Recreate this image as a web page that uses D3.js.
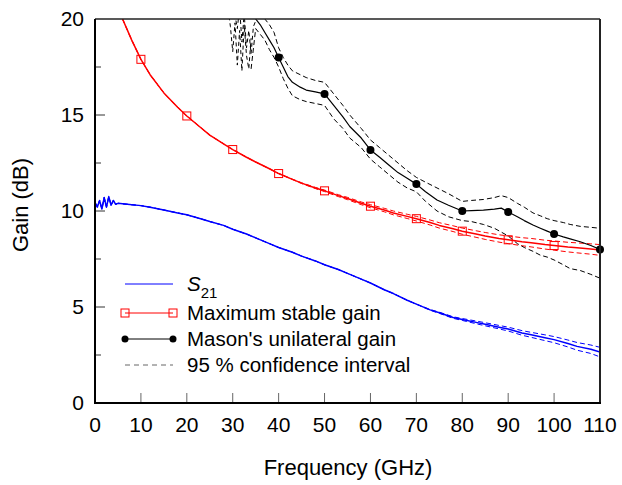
<!DOCTYPE html>
<html>
<head>
<meta charset="utf-8">
<script src="https://cdn.jsdelivr.net/npm/d3@7"></script>
<style>
body{margin:0;background:#fff;}
text{font-family:"Liberation Sans",Arial,sans-serif;fill:#000;}
</style>
</head>
<body>
<div id="chart"></div>
<script>
// S21 (blue)
var s21F=[0,0.5,1,1.5,2,2.5,3,3.5,4,4.5,5,7,10,12,15,18,20,23,25,28,30,33,35,38,40,43,45,48,50,53,55,58,60,63,65,68,70,73,75,78,80,83,85,88,90,93,95,98,100,103,105,108,110];
var s21G=[10.45,10.2,10.55,10.1,10.7,10.2,10.75,10.3,10.55,10.35,10.4,10.35,10.28,10.2,10.05,9.9,9.8,9.6,9.45,9.25,9.05,8.8,8.6,8.3,8.1,7.85,7.65,7.4,7.2,6.95,6.75,6.45,6.25,5.9,5.7,5.35,5.15,4.85,4.7,4.45,4.35,4.2,4.1,3.95,3.85,3.65,3.55,3.4,3.3,3.1,2.95,2.8,2.65];
var s21Err=[0,0,0,0,0,0,0,0,0,0,0,0,0,0,0,0,0,0,0,0,0,0,0,0,0,0,0,0,0,0,0,0,0,0,0,0,0,0.02,0.03,0.04,0.05,0.07,0.08,0.09,0.1,0.12,0.13,0.15,0.16,0.18,0.2,0.22,0.25];
// maximum stable gain (red)
var msgF=[5.5,6,8,10,12,15,18,20,23,25,28,30,33,35,38,40,43,45,48,50,53,55,58,60,63,65,68,70,73,75,78,80,83,85,88,90,93,95,98,100,103,105,108,110];
var msgG=[20.4,20.0,18.9,17.9,17.1,16.15,15.4,14.95,14.35,13.95,13.5,13.2,12.8,12.55,12.2,11.95,11.65,11.45,11.2,11.05,10.8,10.65,10.4,10.25,10.05,9.9,9.72,9.6,9.4,9.25,9.08,8.95,8.8,8.7,8.57,8.5,8.4,8.35,8.25,8.2,8.12,8.08,8.02,7.97];
var msgErr=[0,0,0,0,0,0,0,0,0,0,0,0,0,0,0,0,0.01,0.02,0.03,0.04,0.05,0.06,0.07,0.08,0.09,0.1,0.11,0.12,0.13,0.14,0.15,0.16,0.17,0.18,0.19,0.2,0.21,0.22,0.23,0.24,0.25,0.26,0.27,0.28];
// Mason's unilateral gain (black)
var masF=[34,35,36,37,38,39,40,41,42,43,44.7,46,48,50,52,54,55.5,58,60,62,64,66,68,70,72,74.5,77,80,82,84.6,87,88.5,90,92,93.5,95.4,97,98.5,100,102,103.5,105.7,108,110];
var masG=[20.6,20.0,19.7,19.3,18.9,18.5,18.0,17.5,17.0,16.7,16.45,16.3,16.2,16.1,15.5,14.9,14.4,13.8,13.18,12.8,12.4,12.0,11.7,11.4,11.0,10.57,10.3,10.0,10.02,10.05,10.1,10.15,9.95,9.7,9.5,9.27,9.1,8.95,8.8,8.65,8.55,8.4,8.2,8.0];
var masUp=[21.5,20.6,20.4,20.0,19.7,19.3,18.5,18.0,17.6,17.3,17.1,16.95,16.8,16.7,16.1,15.5,15.0,14.3,13.7,13.3,12.9,12.5,12.1,11.75,11.5,11.2,10.9,10.5,10.55,10.6,10.7,10.8,10.7,10.4,10.2,9.9,9.75,9.6,9.5,9.4,9.3,9.2,9.15,9.1];
var masLo=[17.4,19.5,19.2,18.9,18.4,18.0,17.5,16.9,16.4,16.0,15.8,15.7,15.6,15.5,14.8,14.3,13.8,13.3,12.7,12.3,11.9,11.5,11.2,11.0,10.5,10.0,9.7,9.5,9.45,9.3,9.1,8.9,8.7,8.3,8.1,7.9,7.7,7.6,7.45,7.2,7.0,6.9,6.7,6.5];
// wild parts of the confidence bounds at 29-35 GHz
var wildF=[29,29.5,30,30.5,31,31.5,32,32.5,33,33.5,34];
var wildG=[20.5,19.6,18.3,19.8,17.6,19.4,17.3,19.7,18.1,17.4,19.0];
var wild2F=[30,30.5,31,31.5,32,32.5,33,33.5,34,34.5,35];
var wild2G=[21,20.2,19.5,20.6,18.8,20.3,18.5,19.4,18.2,19.6,19.9];
// markers
var msgMkF=[10,20,30,40,50,60,70,80,90,100];
var masMkF=[40,50,60,70,80,90,100,110];
// axes
var xTicks=[0,10,20,30,40,50,60,70,80,90,100,110];
var yTicks=[0,5,10,15,20];
var yMinor=[2.5,7.5,12.5,17.5];

var W=622,H=485,L=95,R=600,T=19,B=403;
var x=d3.scaleLinear().domain([0,110]).range([L,R]);
var y=d3.scaleLinear().domain([0,20]).range([B,T]);

var svg=d3.select("#chart").append("svg").attr("width",W).attr("height",H);
svg.append("defs").append("clipPath").attr("id","clip")
   .append("rect").attr("x",L).attr("y",T).attr("width",R-L).attr("height",B-T);
var plot=svg.append("g").attr("clip-path","url(#clip)");

function pts(fs,gs){return fs.map(function(f,i){return [f,gs[i]];});}
var line=d3.line().x(function(d){return x(d[0]);}).y(function(d){return y(d[1]);});

function drawLine(data,color,w,dash){
  var p=plot.append("path").attr("d",line(data)).attr("fill","none")
    .attr("stroke",color).attr("stroke-width",w).attr("stroke-linejoin","round");
  if(dash) p.attr("stroke-dasharray",dash);
}

// confidence intervals
drawLine(pts(s21F,s21G.map(function(g,i){return g+s21Err[i];})),"#0000ff",1,"5,3");
drawLine(pts(s21F,s21G.map(function(g,i){return g-s21Err[i];})),"#0000ff",1,"5,3");
drawLine(pts(msgF,msgG.map(function(g,i){return g+msgErr[i];})),"#ff0000",1,"5,3");
drawLine(pts(msgF,msgG.map(function(g,i){return g-msgErr[i];})),"#ff0000",1,"5,3");
drawLine(pts(masF,masUp),"#000",1,"5,3");
drawLine(pts(masF,masLo),"#000",1,"5,3");
drawLine(pts(wildF,wildG),"#000",1,"4,3");
drawLine(pts(wild2F,wild2G),"#000",1,"4,3");

// main curves
drawLine(pts(s21F,s21G),"#0000ff",1.5);
drawLine(pts(msgF,msgG),"#ff0000",1.5);
drawLine(pts(masF,masG),"#000",1.2);

// markers
function interp(fs,gs,f){return d3.scaleLinear().domain(fs).range(gs)(f);}
plot.selectAll("rect.msg").data(msgMkF).enter().append("rect").attr("class","msg")
  .attr("x",function(d){return x(d)-4;}).attr("y",function(d){return y(interp(msgF,msgG,d))-4;})
  .attr("width",8).attr("height",8).attr("fill","none").attr("stroke","#ff0000").attr("stroke-width",1);
svg.selectAll("circle.mas").data(masMkF).enter().append("circle").attr("class","mas")
  .attr("cx",function(d){return x(d);}).attr("cy",function(d){return y(interp(masF,masG,d));})
  .attr("r",4).attr("fill","#000");

// frame
svg.append("line").attr("x1",L).attr("x2",R).attr("y1",T).attr("y2",T).attr("stroke","#222").attr("stroke-width",1.5);
svg.append("line").attr("x1",R).attr("x2",R).attr("y1",T).attr("y2",B).attr("stroke","#222").attr("stroke-width",2);

// x axis
svg.selectAll("line.xt").data(xTicks.slice(1,-1)).enter().append("line")
  .attr("x1",x).attr("x2",x).attr("y1",B).attr("y2",B-10).attr("stroke","#666").attr("stroke-width",1);
svg.selectAll("text.xl").data(xTicks).enter().append("text")
  .attr("x",x).attr("y",B+22).attr("dy",".35em").attr("text-anchor","middle")
  .style("font-size","21px").text(function(d){return d;});
svg.append("line").attr("x1",L).attr("x2",R+1).attr("y1",B).attr("y2",B).attr("stroke","#000").attr("stroke-width",2);

// y axis
svg.selectAll("line.yt").data(yTicks.slice(1,-1)).enter().append("line")
  .attr("x1",L).attr("x2",L+10).attr("y1",y).attr("y2",y).attr("stroke","#333").attr("stroke-width",1);
svg.selectAll("line.ym").data(yMinor).enter().append("line")
  .attr("x1",L).attr("x2",L+6).attr("y1",y).attr("y2",y).attr("stroke","#333").attr("stroke-width",1);
svg.selectAll("text.yl").data(yTicks).enter().append("text")
  .attr("x",L-11).attr("y",y).attr("dy",".35em").attr("text-anchor","end")
  .style("font-size","21px").text(function(d){return d;});
svg.append("line").attr("x1",L).attr("x2",L).attr("y1",T).attr("y2",B+1).attr("stroke","#000").attr("stroke-width",2);

// axis titles
svg.append("text").attr("x",348).attr("y",467).attr("dy",".35em").attr("text-anchor","middle")
  .style("font-size","22px").text("Frequency (GHz)");
svg.append("text").attr("transform","translate(20,205) rotate(-90)").attr("dy",".35em")
  .attr("text-anchor","middle").style("font-size","22px").text("Gain (dB)");

// legend
var lx1=125,lx2=173,tx=187,fs="20.5px";
var leg=svg.append("g");
leg.append("line").attr("x1",lx1).attr("x2",lx2).attr("y1",284).attr("y2",284).attr("stroke","#0000ff").attr("stroke-width",1);
var st=leg.append("text").attr("x",tx).attr("y",284).attr("dy",".35em").style("font-size",fs);
st.append("tspan").style("font-style","italic").text("S");
st.append("tspan").attr("dy","7").style("font-size","15px").text("21");
leg.append("line").attr("x1",lx1).attr("x2",lx2).attr("y1",313).attr("y2",313).attr("stroke","#ff0000").attr("stroke-width",1);
leg.selectAll("rect").data([lx1,lx2]).enter().append("rect").attr("x",function(d){return d-4;}).attr("y",309)
  .attr("width",8).attr("height",8).attr("fill","none").attr("stroke","#ff0000");
leg.append("text").attr("x",tx).attr("y",313).attr("dy",".35em").style("font-size",fs).text("Maximum stable gain");
leg.append("line").attr("x1",lx1).attr("x2",lx2).attr("y1",339).attr("y2",339).attr("stroke","#000").attr("stroke-width",1);
leg.selectAll("circle").data([lx1,lx2]).enter().append("circle").attr("cx",function(d){return d;}).attr("cy",339).attr("r",3.5).attr("fill","#000");
leg.append("text").attr("x",tx).attr("y",339).attr("dy",".35em").style("font-size",fs).text("Mason's unilateral gain");
leg.append("line").attr("x1",lx1).attr("x2",lx2).attr("y1",365).attr("y2",365).attr("stroke","#666").attr("stroke-width",1).attr("stroke-dasharray","5,4");
leg.append("text").attr("x",tx).attr("y",365).attr("dy",".35em").style("font-size",fs).text("95 % confidence interval");
</script>
</body>
</html>
